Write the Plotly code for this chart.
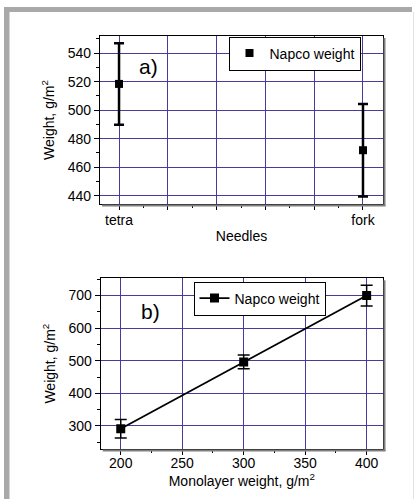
import plotly.graph_objects as go

# ---- data ----
needles = ["tetra", "fork"]
needle_pos = [1, 2]
napco_a = [518.4, 471.9]
err_a = [28.6, 32.5]

monolayer = [200, 300, 400]
napco_b = [291.5, 496.5, 700]
err_b = [28.5, 21, 32]

W, H = 415, 499
def px(x): return x / W
def py(y): return 1 - y / H

GRID = "#4a3a9c"
FONT = "Liberation Sans, Arial, sans-serif"

fig = go.Figure()

fig.add_trace(go.Scatter(
    x=needle_pos, y=napco_a, mode="markers", name="Napco weight",
    marker=dict(symbol="square", size=8, color="black"),
    error_y=dict(type="data", array=err_a, visible=True, color="black", thickness=2.5, width=5),
    xaxis="x", yaxis="y", legend="legend", showlegend=True))

fig.add_trace(go.Scatter(
    x=monolayer, y=napco_b, mode="lines+markers", name="Napco weight",
    line=dict(color="black", width=1.8),
    marker=dict(symbol="square", size=9, color="black"),
    error_y=dict(type="data", array=err_b, visible=True, color="black", thickness=1.5, width=6),
    xaxis="x2", yaxis="y2", legend="legend2", showlegend=True))

common_axis = dict(showline=True, linecolor="black", linewidth=1.2, mirror=True,
                   ticks="outside", ticklen=5, tickwidth=1, tickcolor="black",
                   showgrid=True, gridcolor=GRID, gridwidth=1.3, zeroline=False,
                   tickfont=dict(size=14, color="black", family=FONT),
                   automargin=False)

tick_labels_a = ["tetra", "", "", "", "", "fork"]
grid_a = [1, 1.2, 1.4, 1.6, 1.8, 2]

fig.update_layout(
    width=W, height=H, autosize=False,
    margin=dict(l=0, r=0, t=0, b=0),
    paper_bgcolor="white", plot_bgcolor="white",
    font=dict(family=FONT, color="black", size=14),
    xaxis=dict(common_axis, domain=[px(100), px(383)], range=[0.922, 2.082],
               tickmode="array", tickvals=grid_a, ticktext=tick_labels_a, ticklabelstandoff=-2,
               minor=dict(tickvals=[1.1, 1.3, 1.5, 1.7, 1.9], ticks="outside", ticklen=3, tickcolor="black", showgrid=False),
               title=dict(text="Needles", standoff=4, font=dict(size=14)), anchor="y"),
    yaxis=dict(common_axis, domain=[py(204), py(36)], range=[434.2, 552],
               tickmode="array", tickvals=[440, 460, 480, 500, 520, 540],
               minor=dict(dtick=10, tick0=440, ticks="outside", ticklen=3, tickcolor="black", showgrid=False),
               title=dict(text="Weight, g/m<sup>2</sup>", standoff=9, font=dict(size=14)), anchor="x"),
    xaxis2=dict(common_axis, domain=[px(100.7), px(383)], range=[183.7, 413.3],
                tickmode="array", tickvals=[200, 250, 300, 350, 400], ticklabelstandoff=-4,
                minor=dict(dtick=25, tick0=200, ticks="outside", ticklen=3, tickcolor="black", showgrid=False),
                title=dict(text="Monolayer weight, g/m<sup>2</sup>", standoff=0, font=dict(size=14)), anchor="y2"),
    yaxis2=dict(common_axis, domain=[py(449), py(278.3)], range=[229.4, 753],
                tickmode="array", tickvals=[300, 400, 500, 600, 700],
                minor=dict(dtick=50, tick0=250, ticks="outside", ticklen=3, tickcolor="black", showgrid=False),
                title=dict(text="Weight, g/m<sup>2</sup>", standoff=9, font=dict(size=14)), anchor="x2"),
    legend=dict(x=px(294.5), y=py(36.5), xanchor="center", yanchor="top",
                bgcolor="white", bordercolor="black", borderwidth=1,
                font=dict(size=14, family=FONT), itemwidth=30, tracegroupgap=0),
    legend2=dict(x=px(259.5), y=py(281.5), xanchor="center", yanchor="top",
                 bgcolor="white", bordercolor="black", borderwidth=1,
                 font=dict(size=14, family=FONT), itemwidth=30, tracegroupgap=0),
)

shapes = []
gray = "#a9a9a9"
# outer frame bands
shapes.append(dict(type="rect", xref="paper", yref="paper", x0=px(4), x1=px(9.5), y0=0, y1=py(7),
                   fillcolor=gray, line=dict(width=0), layer="above"))
shapes.append(dict(type="rect", xref="paper", yref="paper", x0=px(4), x1=px(412), y0=py(12), y1=py(7),
                   fillcolor=gray, line=dict(width=0), layer="above"))
shapes.append(dict(type="line", xref="paper", yref="paper", x0=px(413.5), x1=px(413.5), y0=0, y1=py(12),
                   line=dict(color="#e2e2e2", width=1), layer="above"))
# plot box shadows
for (l, r, t, b) in [(100, 383, 36, 204), (100.7, 383, 278.3, 449)]:
    shapes.append(dict(type="line", xref="paper", yref="paper", x0=px(r + 1.5), x1=px(r + 1.5), y0=py(b + 2), y1=py(t + 2),
                       line=dict(color="#808080", width=2), layer="above"))
    shapes.append(dict(type="line", xref="paper", yref="paper", x0=px(l + 2), x1=px(r + 2.5), y0=py(b + 1.5), y1=py(b + 1.5),
                       line=dict(color="#808080", width=2), layer="above"))
fig.update_layout(shapes=shapes)

fig.add_annotation(text="a)", x=px(148), y=py(66), xref="paper", yref="paper",
                   xanchor="center", yanchor="middle",
                   showarrow=False, font=dict(size=21, family=FONT, color="black"))
fig.add_annotation(text="b)", x=px(150), y=py(311), xref="paper", yref="paper",
                   xanchor="center", yanchor="middle",
                   showarrow=False, font=dict(size=21, family=FONT, color="black"))

fig.write_html("out.html", config={"displayModeBar": False},
               post_script="document.body.style.margin='0';document.body.style.overflow='hidden';")
